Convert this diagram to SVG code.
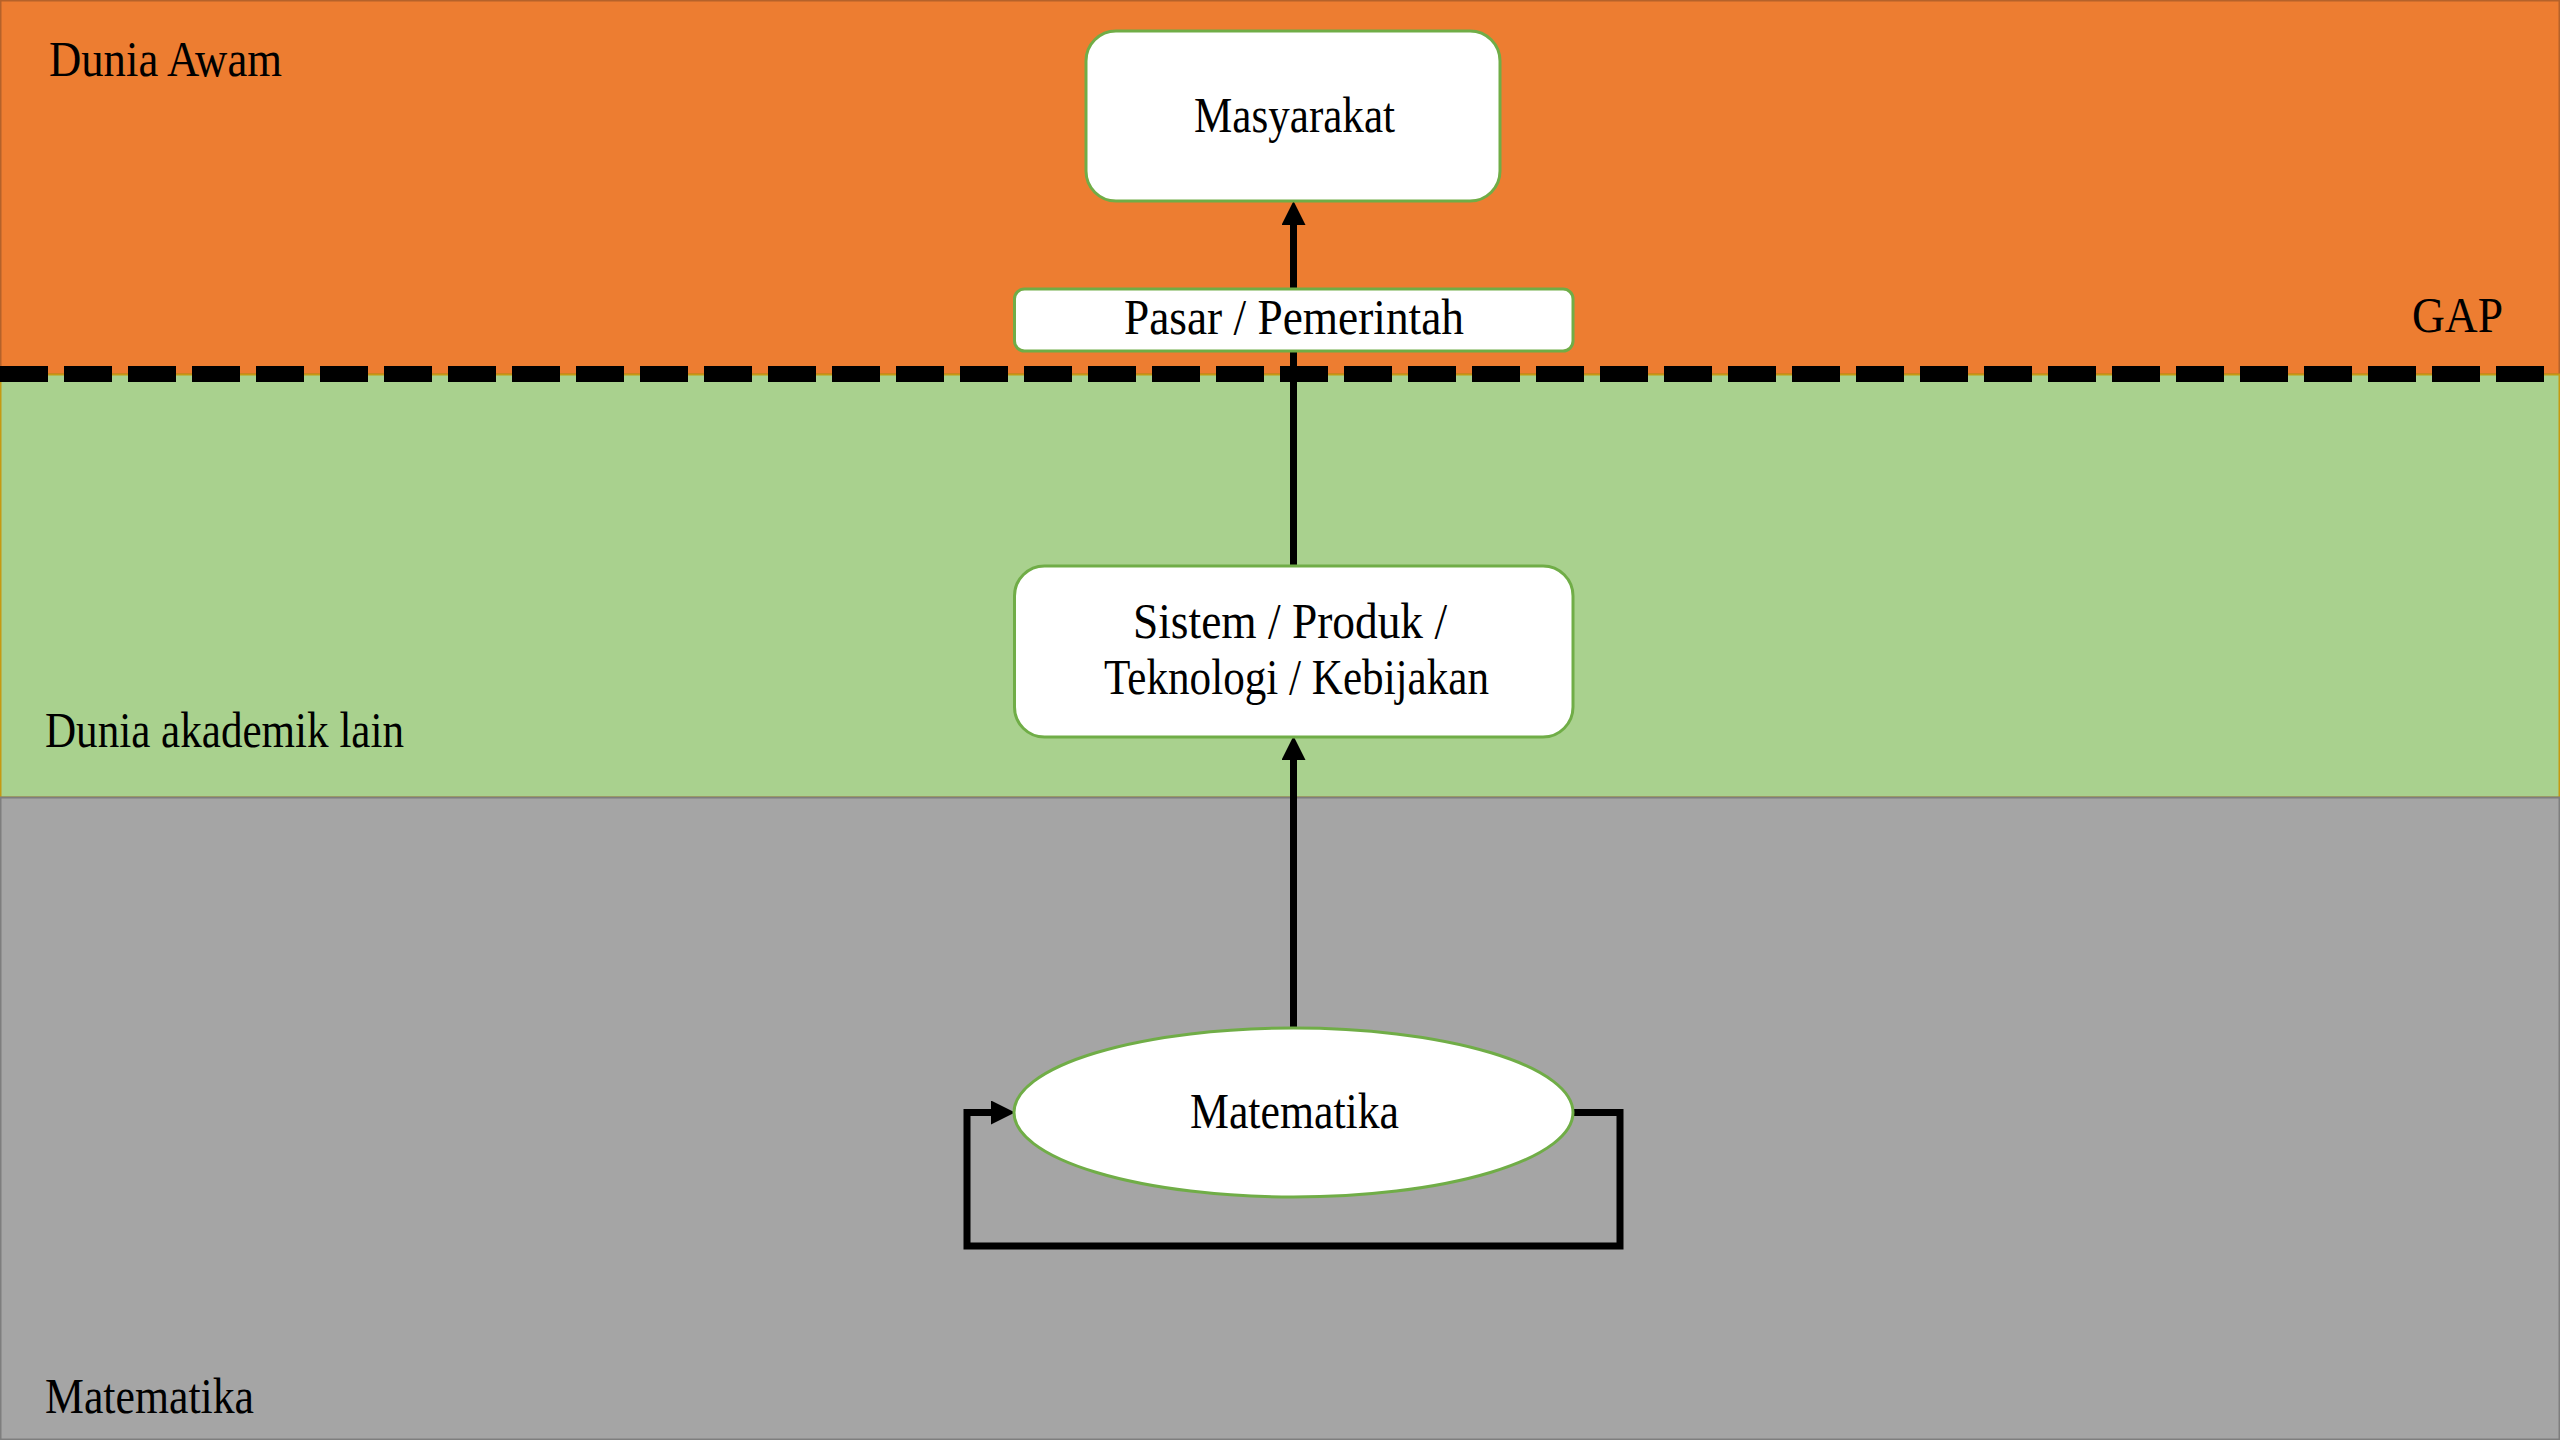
<svg xmlns="http://www.w3.org/2000/svg" width="2560" height="1440" viewBox="0 0 2560 1440">
  <style>
    text { font-family: "Liberation Serif", "DejaVu Serif", serif; font-size: 50px; fill: #000; }
    .mid { text-anchor: middle; }
    .node { fill: #FFFFFF; stroke: #70AD47; stroke-width: 3; }
    .conn { fill: none; stroke: #000; stroke-width: 7; stroke-linejoin: miter; }
  </style>
  <defs>
    <marker id="arrow" markerUnits="userSpaceOnUse" markerWidth="24" markerHeight="24" refX="0" refY="12" orient="auto" viewBox="0 0 24 24">
      <path d="M0,0 L24,12 L0,24 Z" fill="#000"/>
    </marker>
  </defs>

  <!-- layer bands -->
  <g id="bands">
    <rect x="0.5" y="0.5" width="2559" height="374" fill="#ED7D31" stroke="#B5622A" stroke-width="2"/>
    <rect x="0.5" y="374.5" width="2559" height="423" fill="#A9D18E" stroke="#C59A12" stroke-width="2"/>
    <rect x="0.5" y="797.5" width="2559" height="642" fill="#A5A5A5" stroke="#7E7E7E" stroke-width="2"/>
    <text x="49" y="76" textLength="233" lengthAdjust="spacingAndGlyphs">Dunia Awam</text>
    <text x="45" y="747" textLength="359" lengthAdjust="spacingAndGlyphs">Dunia akademik lain</text>
    <text x="45" y="1413" textLength="209" lengthAdjust="spacingAndGlyphs">Matematika</text>
    <text x="2412" y="332" textLength="91" lengthAdjust="spacingAndGlyphs">GAP</text>
  </g>

  <!-- gap boundary -->
  <g id="gap-line">
    <line x1="0" y1="374" x2="2560" y2="374" stroke="#000" stroke-width="16" stroke-dasharray="48 16"/>
  </g>

  <!-- connectors -->
  <g id="connectors">
    <path class="conn" d="M1293.5,1028 V760" marker-end="url(#arrow)"/>
    <path class="conn" d="M1293.5,566 V225" marker-end="url(#arrow)"/>
    <path class="conn" d="M1573,1112.5 H1620 V1246 H967 V1112.5 H991" marker-end="url(#arrow)"/>
  </g>

  <!-- nodes -->
  <g id="node-masyarakat">
    <rect class="node" x="1086" y="31" width="414" height="170" rx="30" ry="30"/>
    <text class="mid" x="1294.5" y="132" textLength="201" lengthAdjust="spacingAndGlyphs">Masyarakat</text>
  </g>
  <g id="node-pasar">
    <rect class="node" x="1014.5" y="289" width="558.5" height="62" rx="10" ry="10"/>
    <text class="mid" x="1294" y="334" textLength="340" lengthAdjust="spacingAndGlyphs">Pasar / Pemerintah</text>
  </g>
  <g id="node-sistem">
    <rect class="node" x="1014.5" y="566" width="558.5" height="171" rx="30" ry="30"/>
    <text class="mid" x="1290" y="638" textLength="314" lengthAdjust="spacingAndGlyphs">Sistem / Produk /</text>
    <text class="mid" x="1296.5" y="694" textLength="385" lengthAdjust="spacingAndGlyphs">Teknologi / Kebijakan</text>
  </g>
  <g id="node-matematika">
    <ellipse class="node" cx="1293.5" cy="1112.5" rx="279.5" ry="84.5"/>
    <text class="mid" x="1294.5" y="1128" textLength="209" lengthAdjust="spacingAndGlyphs">Matematika</text>
  </g>
</svg>
